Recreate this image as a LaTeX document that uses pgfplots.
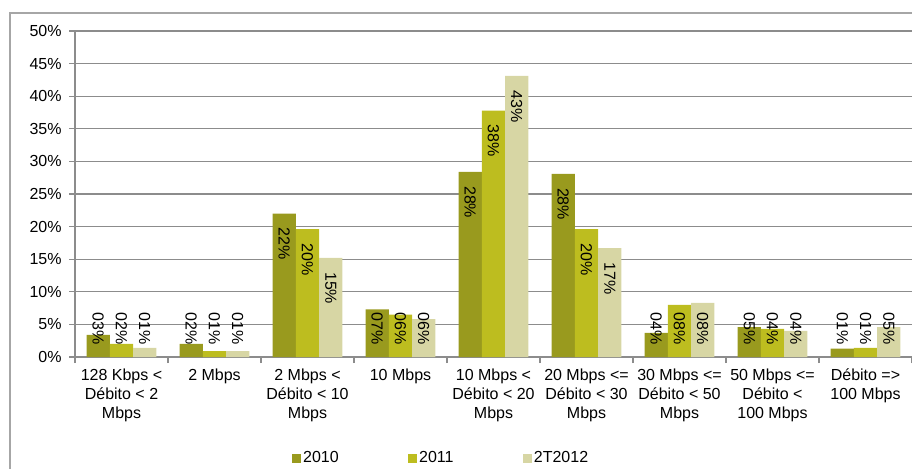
\documentclass[border=0pt]{standalone}
\usepackage{pgfplots}
\pgfplotsset{compat=1.18}
\usepackage{pgfplotstable}
\usepackage{fontspec}
\setmainfont{Liberation Sans}
\definecolor{cA}{HTML}{999A1E}
\definecolor{cB}{HTML}{BDBD1F}
\definecolor{cC}{HTML}{D7D6A4}
\definecolor{gridc}{HTML}{8C8C8C}
\definecolor{borderc}{HTML}{A6A6A6}
\pgfplotstableread{
x a b c la lb lc
0 3.4 2.0 1.4 03 02 01
1 2.0 0.9 0.9 02 01 01
2 22.0 19.6 15.2 22 20 15
3 7.3 6.5 5.8 07 06 06
4 28.4 37.8 43.1 28 38 43
5 28.1 19.6 16.7 28 20 17
6 3.7 8.0 8.3 04 08 08
7 4.6 4.3 4.0 05 04 04
8 1.3 1.4 4.6 01 01 05
}\datatab
\begin{document}
\begin{tikzpicture}[font=\fontsize{12pt}{13.8pt}\selectfont]
\useasboundingbox (0,0) rectangle (684pt,351pt);
\clip (0,0) rectangle (684pt,351pt);
\draw[color=borderc, line width=1.1pt] (7.5pt,-20pt) -- (7.5pt,341.25pt) -- (720pt,341.25pt);
\begin{axis}[
  scale only axis, width=627.75pt, height=244.5pt,
  at={(56.25pt,83.25pt)}, anchor=south west,
  xmin=-0.5, xmax=8.5, ymin=0, ymax=50,
  axis lines=left, axis line style={gridc, line width=1pt, -},
  ymajorgrids, grid style={gridc, line width=1pt},
  ytick={0,5,...,50},
  yticklabel={\pgfmathparse{int(round(\tick))}\pgfmathresult\%},
  xtick={0,...,8},
  xticklabels={{128 Kbps <\\Débito < 2\\Mbps},{2 Mbps},{2 Mbps <\\Débito < 10\\Mbps},{10 Mbps},{10 Mbps <\\Débito < 20\\Mbps},{20 Mbps <=\\Débito < 30\\Mbps},{30 Mbps <=\\Débito < 50\\Mbps},{50 Mbps <=\\Débito <\\100 Mbps},{Débito =>\\100 Mbps}},
  minor xtick={-0.5,0.5,...,8.5},
  major x tick style={draw=none},
  minor x tick style={gridc, line width=1pt},
  ytick style={gridc, line width=1pt},
  tick align=outside, major tick length=4.5pt, minor tick length=4.5pt,
  xticklabel style={align=center, font=\fontsize{12pt}{14.3pt}\selectfont, yshift=-1pt},
  yticklabel style={font=\fontsize{12pt}{13.8pt}\selectfont, xshift=-2pt},
  legend style={draw=none, fill=none, inner sep=0pt, at={(0.259,-0.31)}, anchor=west,
    nodes={inner sep=0pt}, font=\fontsize{12pt}{13.8pt}\selectfont,
    /tikz/every odd column/.append style={column sep=1.5pt},
    /tikz/every even column/.append style={column sep=52pt}},
  legend columns=3,
  legend image code/.code={\fill[#1] (0pt,-3.4pt) rectangle (6.8pt,3.4pt);},
]
\addplot[ybar, bar width=0.25, bar shift=-0.25, fill=cA, draw=none] table[x=x,y=a]{\datatab};
\addplot[ybar, bar width=0.25, bar shift=0, fill=cB, draw=none] table[x=x,y=b]{\datatab};
\addplot[ybar, bar width=0.25, bar shift=0.25, fill=cC, draw=none] table[x=x,y=c]{\datatab};
\legend{2010,2011,2T2012}
\addplot[draw=none, forget plot, nodes near coords={\pgfplotspointmeta\%}, point meta=explicit symbolic,
  every node near coord/.append style={rotate=-90, anchor=west, inner sep=0pt, font=\fontsize{12pt}{13.8pt}\selectfont}]
  table[x expr=\thisrow{x}-0.25, y expr={max(\thisrow{a}-2.15,6.9)}, meta=la]{\datatab};
\addplot[draw=none, forget plot, nodes near coords={\pgfplotspointmeta\%}, point meta=explicit symbolic,
  every node near coord/.append style={rotate=-90, anchor=west, inner sep=0pt, font=\fontsize{12pt}{13.8pt}\selectfont}]
  table[x expr=\thisrow{x}, y expr={max(\thisrow{b}-2.15,6.9)}, meta=lb]{\datatab};
\addplot[draw=none, forget plot, nodes near coords={\pgfplotspointmeta\%}, point meta=explicit symbolic,
  every node near coord/.append style={rotate=-90, anchor=west, inner sep=0pt, font=\fontsize{12pt}{13.8pt}\selectfont}]
  table[x expr=\thisrow{x}+0.25, y expr={max(\thisrow{c}-2.15,6.9)}, meta=lc]{\datatab};
\end{axis}
\end{tikzpicture}
\end{document}
